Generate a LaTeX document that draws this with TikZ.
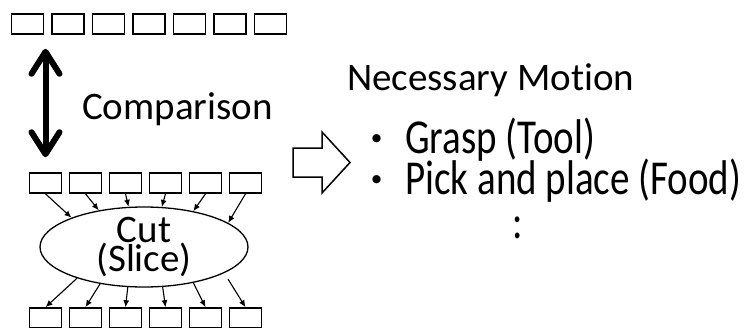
\documentclass[tikz,border=0pt]{standalone}
\usepackage{fontspec}
\setmainfont[Ligatures=NoCommon, Contextuals=NoAlternate]{Carlito}
\newfontfamily\jpfont{Noto Sans CJK JP}
\usetikzlibrary{arrows.meta,shapes.geometric}

\def\cellWidth{32pt}
\def\cellHeight{20pt}

\tikzset{
  cell/.style = {draw, line width=1.6pt, minimum width=\cellWidth,
    minimum height=\cellHeight, inner sep=0pt},
  flow/.style = {line width=1.1pt, -{Latex[length=7pt,width=6pt]}},
  txt/.style = {inner sep=0pt, font=\fontsize{39}{29}\selectfont},
}

\begin{document}
\begin{tikzpicture}[x=1pt, y=-1pt]
  \useasboundingbox (0,0) rectangle (747,327);
  %% upper row
  \node [cell] (t1) at (27.5,24) {};
  \node [cell] (t2) at (68,24) {};
  \node [cell] (t3) at (108.5,24) {};
  \node [cell] (t4) at (149,24) {};
  \node [cell] (t5) at (189.5,24) {};
  \node [cell] (t6) at (230,24) {};
  \node [cell] (t7) at (270.5,24) {};
  %% middle row
  \node [cell] (m1) at (45.5,183) {};
  \node [cell] (m2) at (85.5,183) {};
  \node [cell] (m3) at (125.5,183) {};
  \node [cell] (m4) at (165.5,183) {};
  \node [cell] (m5) at (205.5,183) {};
  \node [cell] (m6) at (245.5,183) {};
  %% lower row, cut by the page
  \node [cell] (b1) at (45.5,318) {};
  \node [cell] (b2) at (85.5,318) {};
  \node [cell] (b3) at (125.5,318) {};
  \node [cell] (b4) at (165.5,318) {};
  \node [cell] (b5) at (205.5,318) {};
  \node [cell] (b6) at (245.5,318) {};
  %% task
  \node [ellipse, draw, line width=1.3pt, minimum width=208pt,
    minimum height=80pt, inner sep=0pt] (cut) at (144,247) {};
  \node [txt, align=center] (cutname) at (cut.center) {Cut\\(Slice)};
  %% into the task
  \draw [flow] (m1.south) -- (cut.158.6);
  \draw [flow] (m2.south) -- (cut.141.2);
  \draw [flow] (m3.south) -- (cut.111.8);
  \draw [flow] (m4.south) -- (cut.66);
  \draw [flow] (m5.south) -- (cut.36);
  \draw [flow] (m6.south) -- (cut.16.8);
  %% out of the task
  \draw [flow] (cut.205.6) -- (b1.north);
  \draw [flow] (cut.220.8) -- (b2.north);
  \draw [flow] (cut.248.2) -- (b3.north);
  \draw [flow] (cut.295.4) -- (b4.north);
  \draw [flow] (cut.324.4) -- (b5.north);
  \draw [flow, shorten <=7pt] (cut.342.5) -- (b6.north);
  %% comparison
  \draw [line width=6pt,
    {Straight Barb[round,length=22pt,width=28pt]}-{Straight Barb[round,length=22pt,width=28pt]},
    shorten <=14pt, shorten >=15pt]
    (m1.north |- t1.south) -- (m1.north)
    ;
  \node [txt, anchor=base west] (compare) at (82,119) {Comparison};
  %% hollow arrow
  \draw [line width=1.5pt]
    (293,148) -- (322,148) -- (322,132) -- (350,162.5)
    -- (322,193) -- (322,177) -- (293,177) -- cycle
    ;
  %% motions
  \node [txt, anchor=base west] (motion) at (347,90) {Necessary Motion};
  \node [txt, anchor=base] (dot1) at (377,153) {\jpfont ・};
  \node [txt, anchor=base west] (grasp) at (405,153)
    {\scalebox{1}[1.25]{Grasp (Tool)}};
  \node [txt, anchor=base] (dot2) at (377,194) {\jpfont ・};
  \node [txt, anchor=base west] (pick) at (405,194)
    {\scalebox{1}[1.25]{Pick and place (Food)}};
  \node [txt, anchor=base] (more) at (518,238) {\scalebox{1}[1.25]{:}};
\end{tikzpicture}
\end{document}
